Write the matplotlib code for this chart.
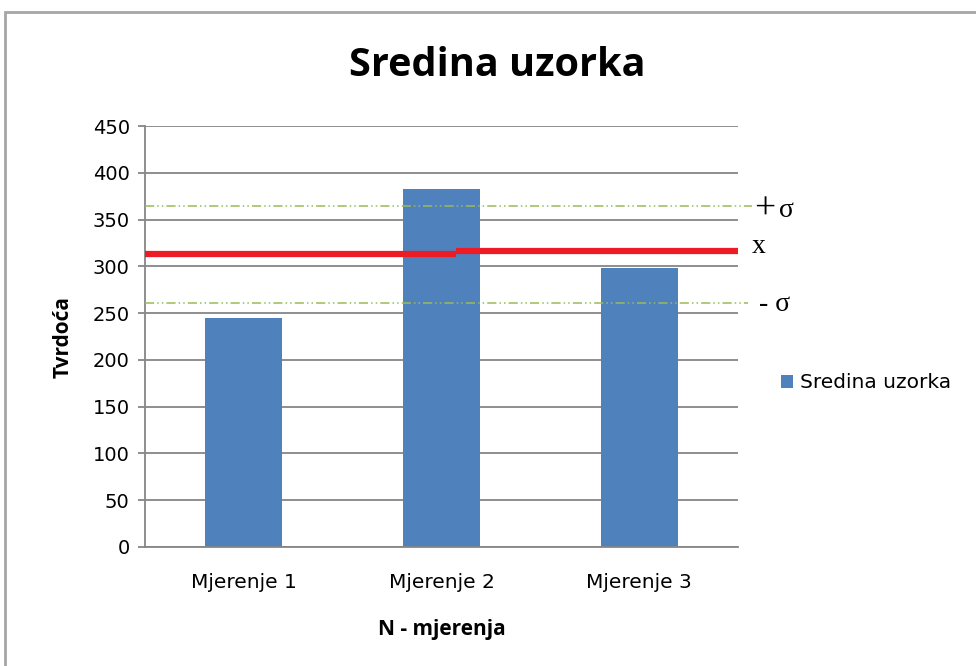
import matplotlib.pyplot as plt
import numpy as np
from matplotlib.patches import Rectangle

categories = ["Mjerenje 1", "Mjerenje 2", "Mjerenje 3"]
values = [245, 383, 298]
mean_left = 313.5
mean_right = 316
sigma_upper = 364
sigma_lower = 260.5
yticks = [0, 50, 100, 150, 200, 250, 300, 350, 400, 450]

BLUE = "#4F81BD"
RED = "#ED1C24"
GREEN = "#9BBB59"
GRID = "#868686"

fig = plt.figure(figsize=(9.76, 6.66), dpi=100)
fig.patches.append(Rectangle((5 / 976, -0.1), 1.2, (666 - 12) / 666 + 0.1,
                             transform=fig.transFigure, fill=False,
                             edgecolor="#A6A6A6", linewidth=2))

ax = fig.add_axes([145 / 976, 1 - 547 / 666, (738 - 145) / 976, (547 - 126) / 666])
x = np.arange(len(categories))
ax.bar(x, values, width=0.39, color=BLUE, label="Sredina uzorka", zorder=2)

ax.set_xlim(-0.5, 2.5)
ax.set_ylim(0, 450)
ax.set_yticks(yticks)
ax.set_xticks(x)
ax.set_xticklabels(categories)
ax.yaxis.grid(True, color=GRID, linewidth=1.3, zorder=0)
ax.set_axisbelow(True)
for side in ("top", "right"):
    ax.spines[side].set_visible(False)
for side in ("left", "bottom"):
    ax.spines[side].set_color(GRID)
    ax.spines[side].set_linewidth(1.3)
ax.tick_params(axis="y", length=5, width=1.3, color=GRID, labelsize=14, pad=6)
ax.tick_params(axis="x", length=0, labelsize=14.5, pad=19)

# sigma band and the mean line
dash_dot = (0, (6, 2, 1, 2, 1, 2))
ax.plot([0, 1.024], [sigma_upper, sigma_upper], transform=ax.get_yaxis_transform(),
        color=GREEN, linestyle=dash_dot, linewidth=1.1, clip_on=False, zorder=3)
ax.plot([0, 1.017], [sigma_lower, sigma_lower], transform=ax.get_yaxis_transform(),
        color=GREEN, linestyle=dash_dot, linewidth=1.1, clip_on=False, zorder=3)
step = 1.073
ax.plot([-0.5, step], [mean_left, mean_left], color=RED, linewidth=4.5,
        solid_capstyle="butt", zorder=4)
ax.plot([step, 2.5], [mean_right, mean_right], color=RED, linewidth=4.5,
        solid_capstyle="butt", zorder=4)

serif = dict(family="Liberation Serif", fontsize=20, va="center",
             transform=ax.get_yaxis_transform(), clip_on=False)
ax.text(1.027, sigma_upper - 3, "+", **{**serif, "fontsize": 27})
ax.text(1.069, sigma_upper - 4, "σ", **serif)
ax.text(1.024, mean_right + 5, "x", **serif)
ax.text(1.036, sigma_lower - 1, "- σ", **serif)

fig.text(497 / 976, 1 - 66 / 666, "Sredina uzorka", fontsize=28.5,
         fontweight="bold", family="Open Sans", ha="center", va="center")
ax.set_ylabel("Tvrdoća", fontsize=15, fontweight="bold", labelpad=14,
              family="Open Sans")
ax.set_xlabel("N - mjerenja", fontsize=15, fontweight="bold", labelpad=19,
              family="Open Sans")

ax.legend(loc="center left", bbox_to_anchor=(1.042, 0.39), frameon=False,
          fontsize=14.5, handlelength=0.6, handleheight=0.6, handletextpad=0.35)

fig.savefig("out.png", dpi=100)
